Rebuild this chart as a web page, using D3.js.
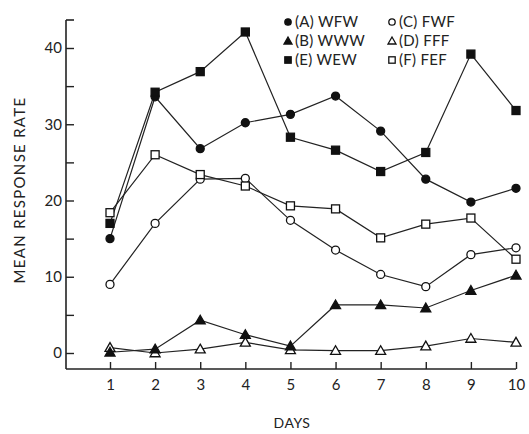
<!DOCTYPE html>
<html><head><meta charset="utf-8">
<script src="https://cdn.jsdelivr.net/npm/d3@7"></script>
<style>body{margin:0;background:#fff}svg{display:block}text{font-family:Lato,"DejaVu Sans",sans-serif;fill:#222}</style>
</head><body>
<script>
const days = [1,2,3,4,5,6,7,8,9,10];
const seriesA = [15.0,33.6,26.8,30.2,31.3,33.7,29.1,22.8,19.8,21.6]; // (A) WFW filled circle
const seriesB = [0.1,0.5,4.3,2.4,0.9,6.3,6.3,5.9,8.2,10.2];       // (B) WWW filled triangle
const seriesC = [9.0,17.0,22.8,22.9,17.4,13.5,10.3,8.7,12.9,13.8];  // (C) FWF open circle
const seriesD = [0.7,0.0,0.5,1.4,0.4,0.3,0.3,0.9,1.9,1.4];        // (D) FFF open triangle
const seriesE = [17.0,34.2,36.9,42.1,28.3,26.6,23.8,26.3,39.2,31.8]; // (E) WEW filled square
const seriesF = [18.4,26.0,23.4,21.9,19.3,18.9,15.1,16.9,17.7,12.3]; // (F) FEF open square
const yTicks = [0,5,10,15,20,25,30,35,40];
const yLabel = "MEAN RESPONSE RATE";
const xLabel = "DAYS";

const W = 529, H = 434;
const svg = d3.select("body").append("svg").attr("width", W).attr("height", H);
const x = d3.scaleLinear().domain([1,10]).range([110,516]);
const y = d3.scaleLinear().domain([0,40]).range([353,48]);
const axisX0 = 66, axisY0 = 369, axisTop = 20;

// axes
svg.append("line").attr("x1",axisX0).attr("x2",axisX0).attr("y1",axisTop).attr("y2",axisY0).attr("stroke","#222").attr("stroke-width",1.6);
svg.append("line").attr("x1",axisX0).attr("x2",axisX0+8).attr("y1",axisTop).attr("y2",axisTop).attr("stroke","#222").attr("stroke-width",1.6);
svg.append("line").attr("x1",axisX0).attr("x2",x(10)).attr("y1",axisY0).attr("y2",axisY0).attr("stroke","#222").attr("stroke-width",1.6);

const gy = svg.append("g").attr("transform",`translate(${axisX0},0)`)
  .call(d3.axisLeft(y).tickValues(yTicks).tickSize(-8).tickPadding(4).tickFormat(d => d%10===0 ? d : ""));
gy.select(".domain").remove();
gy.selectAll("line").attr("stroke","#222").attr("stroke-width",1.4);
gy.selectAll("text").style("font-size","15px").attr("fill","#222");

const gx = svg.append("g").attr("transform",`translate(0,${axisY0})`)
  .call(d3.axisBottom(x).tickValues(days).tickSize(-7).tickPadding(10).tickFormat(d3.format("d")));
gx.select(".domain").remove();
gx.selectAll("line").attr("stroke","#222").attr("stroke-width",1.4);
gx.selectAll("text").style("font-size","15px").attr("fill","#222");

svg.append("text").attr("x",292).attr("y",428).attr("text-anchor","middle").style("font-size","14px").style("letter-spacing","0.5px").text(xLabel);
svg.append("text").attr("transform","translate(25,190) rotate(-90)").attr("text-anchor","middle").style("font-size","15px").style("letter-spacing","1.3px").text(yLabel);

// series
const series = [
  {name:"(C) FWF", vals:seriesC, shape:"circle", fill:false},
  {name:"(D) FFF", vals:seriesD, shape:"triangle", fill:false},
  {name:"(F) FEF", vals:seriesF, shape:"square", fill:false},
  {name:"(B) WWW", vals:seriesB, shape:"triangle", fill:true},
  {name:"(A) WFW", vals:seriesA, shape:"circle", fill:true},
  {name:"(E) WEW", vals:seriesE, shape:"square", fill:true},
];
const line = d3.line().x((d,i)=>x(days[i])).y(d=>y(d));
function marker(g, shape, fill, cx, cy, scale) {
  scale = scale || 1;
  let m;
  if (shape==="circle") m = g.append("circle").attr("cx",cx).attr("cy",cy).attr("r",4*scale);
  else if (shape==="square") { const s=8*scale; m = g.append("rect").attr("x",cx-s/2).attr("y",cy-s/2).attr("width",s).attr("height",s); }
  else { const s=5*scale; m = g.append("path").attr("d",`M${cx},${cy-s}L${cx+s},${cy+s*0.75}L${cx-s},${cy+s*0.75}Z`); }
  m.attr("fill", fill ? "#111" : "#fff").attr("stroke","#111").attr("stroke-width",1.3);
}
series.forEach(s => {
  svg.append("path").datum(s.vals).attr("d",line).attr("fill","none").attr("stroke","#222").attr("stroke-width",1.2);
});
series.forEach(s => {
  const g = svg.append("g");
  s.vals.forEach((v,i)=> marker(g, s.shape, s.fill, x(days[i]), y(v)));
});

// legend
const legend = [
  {name:"(A) WFW", shape:"circle", fill:true, col:0, row:0},
  {name:"(B) WWW", shape:"triangle", fill:true, col:0, row:1},
  {name:"(E) WEW", shape:"square", fill:true, col:0, row:2},
  {name:"(C) FWF", shape:"circle", fill:false, col:1, row:0},
  {name:"(D) FFF", shape:"triangle", fill:false, col:1, row:1},
  {name:"(F) FEF", shape:"square", fill:false, col:1, row:2},
];
const lg = svg.append("g");
legend.forEach(l => {
  const mx = l.col===0 ? 288 : 392, ty = 22 + l.row*19;
  marker(lg, l.shape, l.fill, mx, ty, 0.8);
  lg.append("text").attr("x", mx+7).attr("y", ty).attr("dy","0.35em").style("font-size","15px").style("letter-spacing","0.3px").text(l.name);
});
</script>
</body></html>
